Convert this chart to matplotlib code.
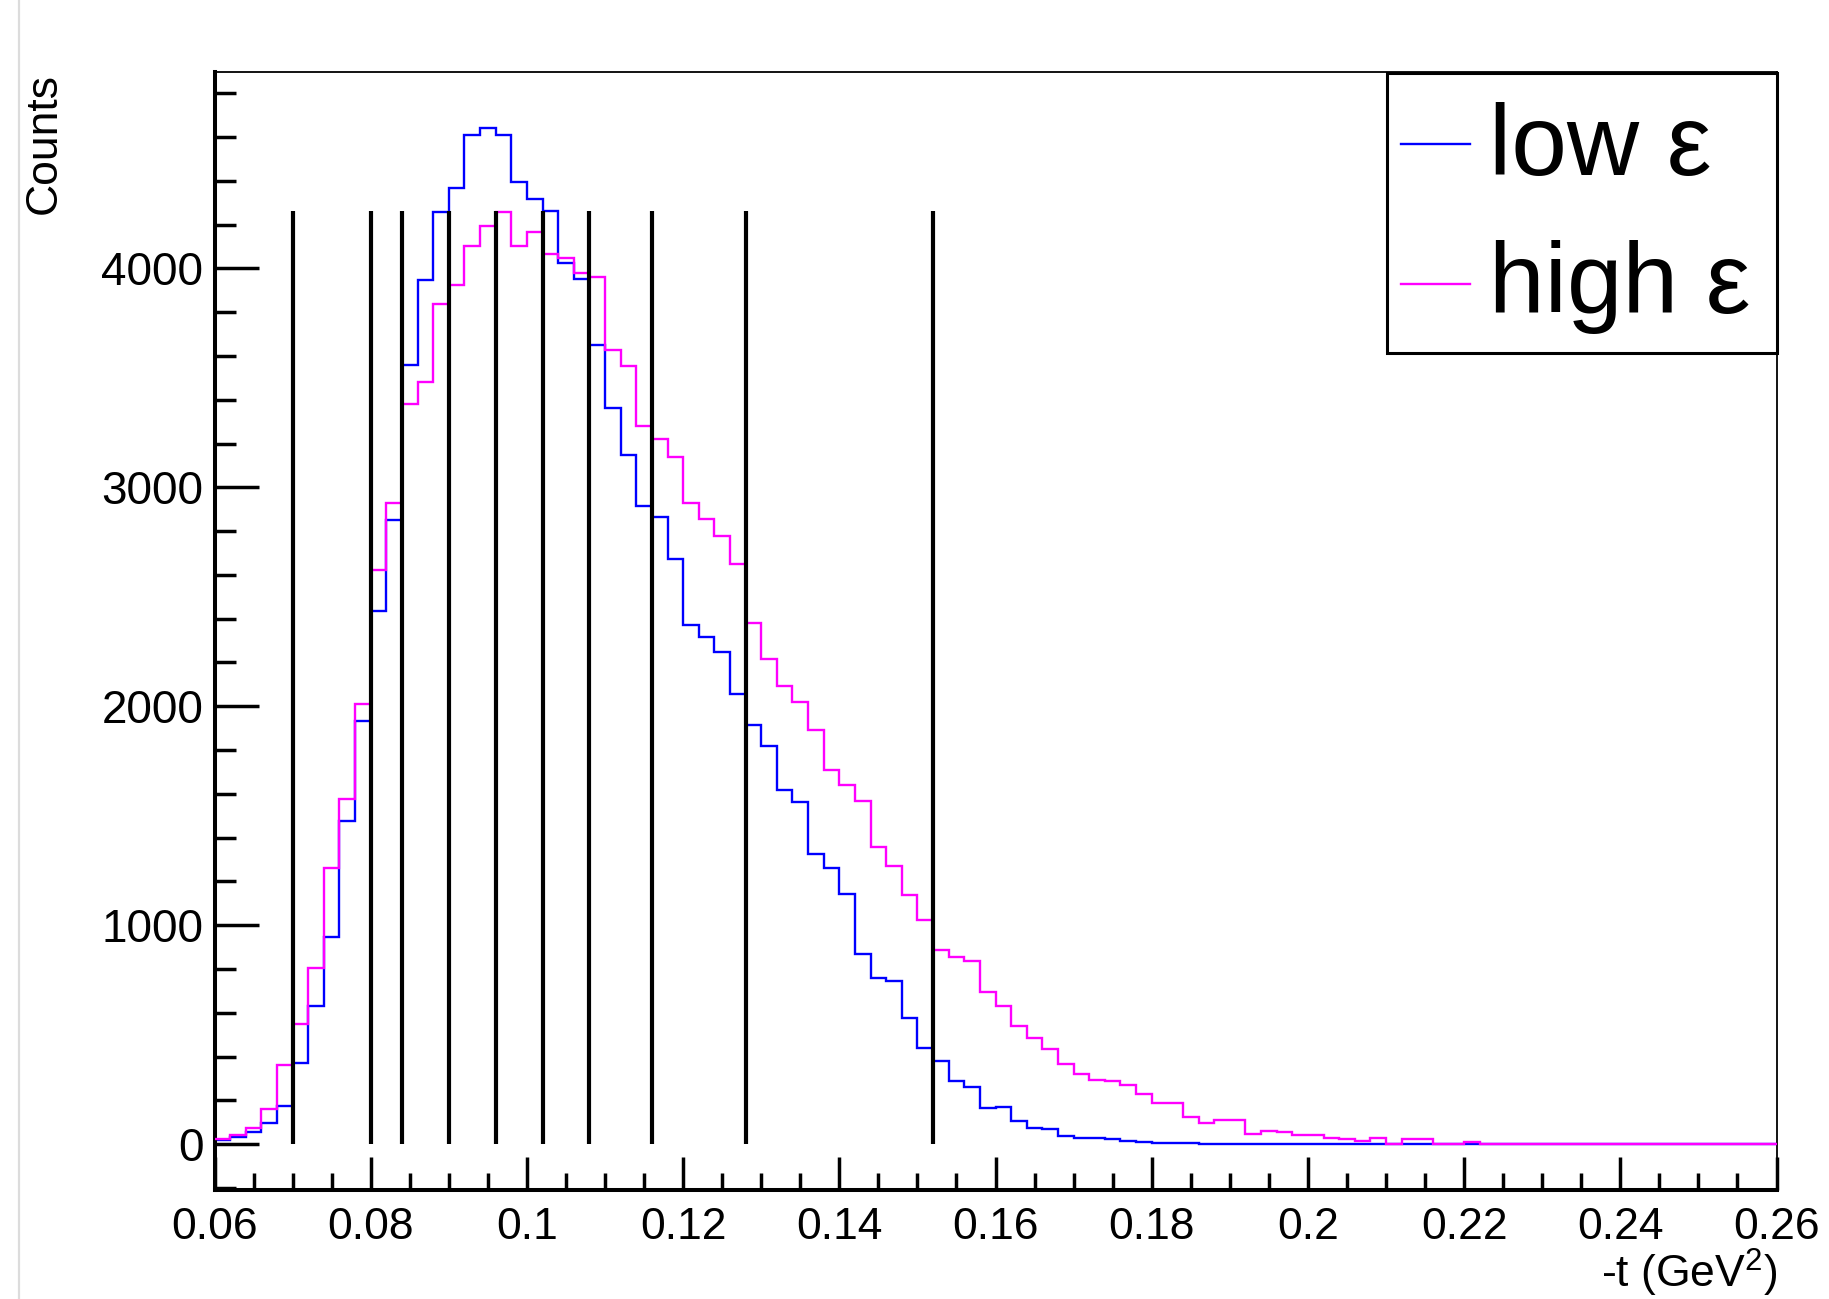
import numpy as np
import matplotlib
matplotlib.use("Agg")
import matplotlib.pyplot as plt
from matplotlib.lines import Line2D
from matplotlib.patches import Rectangle
from matplotlib.ticker import MultipleLocator

plt.rcParams['font.family'] = ['Liberation Sans', 'DejaVu Sans']
plt.rcParams['mathtext.default'] = 'regular'

W, H = 1829, 1299

# -t binning: 100 bins of 0.002 from 0.06 to 0.26
t_lo, t_hi, n_bins = 0.06, 0.26, 100

low_eps = [19, 31, 57, 98, 176, 372, 633, 948, 1474, 1931,
           2435, 2850, 3559, 3946, 4255, 4365, 4608, 4639, 4608, 4394,
           4315, 4261, 4025, 3953, 3650, 3364, 3146, 2913, 2863, 2671,
           2372, 2315, 2246, 2057, 1915, 1820, 1616, 1562, 1326, 1260,
           1143, 869, 759, 746, 576, 441, 381, 287, 261, 167,
           172, 104, 76, 69, 38, 28, 28, 22, 13, 10,
           7, 5, 5, 3, 2, 3, 3, 2, 3, 2,
           2, 1, 1, 1, 1, 1, 1, 1, 1, 1,
           0, 0, 0, 0, 0, 0, 0, 0, 0, 0,
           0, 0, 0, 0, 0, 0, 0, 0, 0, 0]

high_eps = [25, 41, 72, 161, 362, 551, 803, 1260, 1575, 2009,
            2624, 2929, 3380, 3480, 3836, 3924, 4104, 4192, 4255, 4104,
            4167, 4066, 4047, 3978, 3962, 3625, 3553, 3279, 3222, 3137,
            2929, 2857, 2778, 2649, 2381, 2214, 2094, 2019, 1893, 1710,
            1641, 1569, 1357, 1269, 1137, 1024, 885, 854, 835, 693,
            630, 538, 487, 434, 365, 319, 292, 290, 270, 231,
            189, 189, 126, 97, 111, 111, 47, 59, 55, 44,
            44, 30, 22, 17, 30, 3, 22, 23, 2, 3,
            12, 3, 2, 1, 1, 1, 1, 0, 1, 0,
            0, 0, 0, 0, 0, 0, 0, 0, 0, 0]

# t-bin boundaries drawn as vertical lines
t_cuts = [0.070, 0.080, 0.084, 0.090, 0.096, 0.102, 0.108, 0.116, 0.128, 0.152]
cut_height = 4260

x_ticks = [0.06, 0.08, 0.10, 0.12, 0.14, 0.16, 0.18, 0.20, 0.22, 0.24, 0.26]
y_ticks = [0, 1000, 2000, 3000, 4000]

series_names = ['low ε', 'high ε']
series_colors = ['blue', 'magenta']

edges = np.linspace(t_lo, t_hi, n_bins + 1)

fig = plt.figure(figsize=(W / 100, H / 100), dpi=100)
ax = fig.add_axes([0.1173, 0.0839, 0.854, 0.8604])

ax.stairs(low_eps, edges, baseline=None, color=series_colors[0], lw=1.7, zorder=2)
ax.stairs(high_eps, edges, baseline=None, color=series_colors[1], lw=1.7, zorder=3)
ax.vlines(t_cuts, 0, cut_height, color='black', lw=3.0, zorder=4)

ax.set_xlim(t_lo, t_hi)
ax.set_ylim(-209, 4895)

ax.set_xticks(x_ticks)
ax.set_xticklabels(['%g' % v for v in x_ticks])
ax.xaxis.set_minor_locator(MultipleLocator(0.005))
ax.set_yticks(y_ticks)
ax.set_yticklabels([str(v) for v in y_ticks])
ax.yaxis.set_minor_locator(MultipleLocator(200))

ax.tick_params(axis='x', which='major', direction='in', length=24, width=2.5, labelsize=32, pad=12)
ax.tick_params(axis='x', which='minor', direction='in', length=12, width=2.5)
ax.tick_params(axis='y', which='major', direction='in', length=32, width=2.5, labelsize=33, pad=8)
ax.tick_params(axis='y', which='minor', direction='in', length=15, width=2.5)

for side in ['left', 'bottom']:
    ax.spines[side].set_linewidth(2.9)
for side in ['top', 'right']:
    ax.spines[side].set_linewidth(1.3)

fig.text(44 / W, 1 - 73 / H, 'Counts', rotation=90, ha='center', va='top', fontsize=32)
fig.text(1777 / W, 1 - 1288 / H, '-t (GeV$^{2}$)', ha='right', va='baseline', fontsize=32)

# legend box, drawn in figure pixels to match the ROOT TLegend
box_l, box_r, box_t, box_b = 1386.7, 1777, 73.3, 353
fig.add_artist(Rectangle((box_l / W, 1 - box_b / H), (box_r - box_l) / W, (box_b - box_t) / H,
                         transform=fig.transFigure, facecolor='white', edgecolor='black',
                         lw=2.2, zorder=10))
row_line_y = [144, 284]
row_base_y = [175, 313]
for name, color, ly, by in zip(series_names, series_colors, row_line_y, row_base_y):
    fig.add_artist(Line2D([1401 / W, 1470 / W], [1 - ly / H, 1 - ly / H], color=color,
                          lw=1.7, zorder=11))
    fig.text(1489 / W, 1 - by / H, name, ha='left', va='baseline', fontsize=72, zorder=11)

# left edge of the screenshot
fig.add_artist(Line2D([19 / W, 19 / W], [0, 1], color='#dcdcdc', lw=1.6))

fig.savefig('out.png', dpi=100)
